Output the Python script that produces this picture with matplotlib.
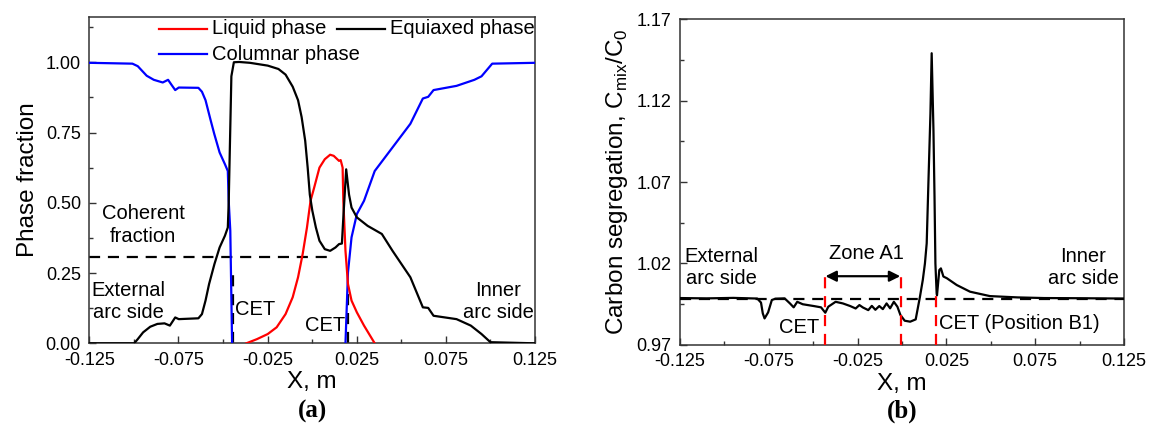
import matplotlib
matplotlib.use("Agg")
import matplotlib.pyplot as plt
import numpy as np

plt.rcParams['font.family'] = ['Liberation Sans', 'DejaVu Sans']
plt.rcParams['mathtext.fontset'] = 'custom'
plt.rcParams['mathtext.rm'] = 'Liberation Sans'

# ---- panel (a): phase fractions along X ----
col_x1 = [-0.125, -0.1008, -0.0978, -0.0928, -0.0888, -0.0838, -0.0808, -0.0788, -0.0768, -0.0748,
          -0.0638, -0.0618, -0.0598, -0.0569, -0.0549, -0.0519, -0.0489, -0.0473, -0.0468, -0.0459, -0.0449]
col_y1 = [0.998, 0.995, 0.986, 0.952, 0.9375, 0.928, 0.9375, 0.919, 0.901, 0.910,
          0.909, 0.895, 0.865, 0.793, 0.745, 0.679, 0.637, 0.613, 0.507, 0.40, 0.0]
col_x2 = [0.0187, 0.0201, 0.0221, 0.0251, 0.0291, 0.0351, 0.0451, 0.0551, 0.0621, 0.0651,
          0.0681, 0.0810, 0.0910, 0.0950, 0.1010, 0.125]
col_y2 = [0.0, 0.252, 0.377, 0.460, 0.507, 0.613, 0.697, 0.781, 0.871, 0.877,
          0.901, 0.916, 0.9375, 0.950, 0.995, 0.998]

equ_x = [-0.125, -0.0998, -0.0978, -0.0948, -0.0908, -0.0868, -0.0828, -0.0798, -0.0768, -0.0748,
         -0.0638, -0.0618, -0.0598, -0.0578, -0.0548, -0.0519, -0.0489, -0.0473, -0.0468, -0.0453,
         -0.0439, -0.0409, -0.0349, -0.0249, -0.0189, -0.0149, -0.0109, -0.0079, -0.0059, -0.0039,
         -0.0025, -0.0013, 0.0001, 0.0021, 0.0041, 0.0071, 0.0101, 0.0131, 0.0151, 0.0167,
         0.0175, 0.0191, 0.0207, 0.0221, 0.0251, 0.0311, 0.0391, 0.0451, 0.0551, 0.0621,
         0.0651, 0.0681, 0.0810, 0.0890, 0.0950, 0.1000, 0.125]
equ_y = [0.0, 0.0, 0.015, 0.039, 0.059, 0.069, 0.071, 0.063, 0.092, 0.086,
         0.089, 0.104, 0.152, 0.211, 0.282, 0.341, 0.383, 0.412, 0.50, 0.95,
         1.0, 1.001, 0.998, 0.988, 0.976, 0.956, 0.913, 0.865, 0.805, 0.721,
         0.625, 0.529, 0.472, 0.412, 0.365, 0.335, 0.329, 0.341, 0.353, 0.355,
         0.448, 0.619, 0.529, 0.483, 0.448, 0.418, 0.389, 0.329, 0.235, 0.128,
         0.126, 0.098, 0.086, 0.063, 0.033, 0.004, 0.0]

liq_x = [-0.0369, -0.0309, -0.0249, -0.0199, -0.0149, -0.0109, -0.0079, -0.0053, -0.0029, -0.0009,
         0.0011, 0.0041, 0.0071, 0.0101, 0.0121, 0.0141, 0.0151, 0.0160, 0.0171, 0.0175,
         0.0187, 0.0201, 0.0221, 0.0251, 0.0291, 0.0351]
liq_y = [0.0, 0.015, 0.033, 0.057, 0.104, 0.164, 0.235, 0.318, 0.412, 0.507,
         0.553, 0.625, 0.655, 0.671, 0.667, 0.655, 0.649, 0.652, 0.625, 0.507,
         0.329, 0.211, 0.152, 0.110, 0.063, 0.0]

coherent_frac = 0.308
cet_a = [-0.0445, 0.0201]

# ---- panel (b): carbon segregation ----
seg_x = [-0.125, -0.110, -0.095, -0.0815, -0.0794, -0.0784, -0.0774, -0.0754, -0.0733, -0.0713,
         -0.0661, -0.0631, -0.0610, -0.0590, -0.0559, -0.0497, -0.0456, -0.0432, -0.0415, -0.0374,
         -0.0333, -0.0292, -0.0261, -0.0240, -0.0220, -0.0190, -0.0170, -0.0150, -0.0128, -0.0108,
         -0.0087, -0.0067, -0.0046, -0.0026, -0.0009, 0.0015, 0.0046, 0.0077, 0.0101, 0.0117,
         0.0129, 0.0139, 0.0149, 0.0160, 0.0167, 0.0177, 0.0183, 0.0188, 0.0195, 0.0197,
         0.0210, 0.0219, 0.0233, 0.0252, 0.0308, 0.0383, 0.0495, 0.0650, 0.0800, 0.1000, 0.125]
seg_y = [0.9988, 0.9986, 0.9989, 0.9985, 0.9960, 0.9894, 0.9863, 0.9900, 0.9976, 0.9984,
         0.9986, 0.9955, 0.9931, 0.9965, 0.9950, 0.9939, 0.9931, 0.9898, 0.9935, 0.9965,
         0.9955, 0.9939, 0.9924, 0.9945, 0.9930, 0.9914, 0.9940, 0.9916, 0.9939, 0.9920,
         0.9955, 0.9925, 0.9965, 0.9935, 0.9884, 0.9849, 0.9843, 0.9857, 0.9996, 1.0099,
         1.0200, 1.0324, 1.0710, 1.1120, 1.1490, 1.1020, 1.0610, 1.0200, 1.0017, 1.0005,
         1.0160, 1.0170, 1.0120, 1.0110, 1.0068, 1.0027, 1.0000, 0.9992, 0.9988, 0.9987, 0.9985]

seg_base = 0.9985
cet_b = [-0.0436, -0.0005, 0.0190]

legend_labels = ['Liquid phase', 'Columnar phase', 'Equiaxed phase']
legend_colors = ['#ff0000', '#0000ff', 'black']

fig = plt.figure(figsize=(11.52, 4.32), dpi=100)
ax1 = fig.add_axes([0.0775, 0.2053, 0.3869, 0.756])
ax2 = fig.add_axes([0.5903, 0.2014, 0.3854, 0.7546])

lw = 1.6
tick_fs = 13
lab_fs = 17.5
txt_fs = 14.5
dash = (5, 3.5)


def style_axis(ax):
    for s in ax.spines.values():
        s.set_linewidth(1.1)
        s.set_color('#333333')
    ax.tick_params(which='both', direction='in', top=False, right=False,
                   labelsize=tick_fs, width=1.0, color='#333333')
    ax.tick_params(which='major', length=5, pad=6)
    ax.tick_params(which='minor', length=3)
    xt = np.arange(-0.125, 0.1251, 0.05)
    ax.set_xticks(xt)
    ax.set_xticklabels(['%.3f' % v for v in xt])
    ax.set_xticks(np.arange(-0.1, 0.101, 0.05), minor=True)
    ax.set_xlim(-0.125, 0.125)
    ax.set_xlabel('X, m', fontsize=lab_fs, labelpad=2)


# panel (a)
ax = ax1
style_axis(ax)
ax.plot(np.r_[col_x1, np.nan, col_x2], np.r_[col_y1, np.nan, col_y2], color=legend_colors[1], lw=lw, zorder=3)
ax.plot(equ_x, equ_y, color=legend_colors[2], lw=lw, zorder=4)
ax.plot(liq_x, liq_y, color=legend_colors[0], lw=lw, zorder=3)
ax.plot([-0.125, 0.0121], [coherent_frac, coherent_frac], color='black', lw=lw, dashes=dash)
ax.plot([cet_a[0], cet_a[0]], [0, 0.252], color='black', lw=lw, dashes=dash, zorder=2)
ax.plot([cet_a[1], cet_a[1]], [0, 0.20], color='black', lw=lw, dashes=dash, zorder=2)
ax.set_ylim(0, 1.162)
yt = np.arange(0, 1.01, 0.25)
ax.set_yticks(yt)
ax.set_yticklabels(['%.2f' % v for v in yt])
ax.set_yticks(np.arange(0.125, 1.16, 0.25), minor=True)
ax.set_ylabel('Phase fraction', fontsize=lab_fs, labelpad=5)

ax.text(-0.0948, 0.42, 'Coherent\nfraction', fontsize=txt_fs, ha='center', va='center', linespacing=1.25)
ax.text(-0.1030, 0.149, 'External\narc side', fontsize=txt_fs, ha='center', va='center',
        linespacing=1.25, clip_on=True)
ax.text(-0.0319, 0.122, 'CET', fontsize=txt_fs, ha='center', va='center')
ax.text(0.0071, 0.063, 'CET', fontsize=txt_fs, ha='center', va='center')
ax.text(0.1045, 0.149, 'Inner\narc side', fontsize=txt_fs, ha='center', va='center', linespacing=1.25)

# legend laid out by hand, Origin style (axes fraction coordinates)
leg_pos = [(0.156, 0.963), (0.156, 0.885), (0.555, 0.963)]
for (lx, ly), lab, c in zip(leg_pos, legend_labels, legend_colors):
    ax.plot([lx, lx + 0.108], [ly, ly], color=c, lw=lw, transform=ax.transAxes, clip_on=False)
    ax.text(lx + 0.12, ly, lab, fontsize=txt_fs, ha='left', va='center', transform=ax.transAxes)

fig.text(0.2709, 0.048, '(a)', fontsize=18, fontweight='bold', family='Liberation Serif',
         ha='center', va='center')

# panel (b)
ax = ax2
style_axis(ax)
ax.plot(seg_x, seg_y, color='black', lw=lw, zorder=4)
ax.axhline(seg_base, color='black', lw=lw, dashes=dash, zorder=3)
for i, xc in enumerate(cet_b):
    top = 1.0149 if i < 2 else 1.001
    ax.plot([xc, xc], [0.97, top], color='#ff0000', lw=lw, dashes=dash, zorder=5)
ax.annotate('', xy=(cet_b[0] + 0.0005, 1.0122), xytext=(cet_b[1] - 0.0005, 1.0122),
            arrowprops=dict(arrowstyle='<|-|>', color='black', lw=lw, mutation_scale=16,
                            shrinkA=0, shrinkB=0))
ax.set_ylim(0.97, 1.17)
yt = np.arange(0.97, 1.171, 0.05)
ax.set_yticks(yt)
ax.set_yticklabels(['%.2f' % v for v in yt])
ax.set_yticks(np.arange(0.995, 1.17, 0.05), minor=True)
ax.set_ylabel(r'Carbon segregation, C$_\mathregular{mix}$/C$_\mathregular{0}$', fontsize=lab_fs, labelpad=5)

ax.text(-0.1015, 1.0175, 'External\narc side', fontsize=txt_fs, ha='center', va='center', linespacing=1.25)
ax.text(-0.020, 1.026, 'Zone A1', fontsize=txt_fs, ha='center', va='center')
ax.text(-0.058, 0.981, 'CET', fontsize=txt_fs, ha='center', va='center')
ax.text(0.021, 0.983, 'CET (Position B1)', fontsize=txt_fs, ha='left', va='center')
ax.text(0.102, 1.0175, 'Inner\narc side', fontsize=txt_fs, ha='center', va='center', linespacing=1.25)
fig.text(0.7830, 0.048, '(b)', fontsize=18, fontweight='bold', family='Liberation Serif',
         ha='center', va='center')

fig.savefig('out.png', dpi=100)
